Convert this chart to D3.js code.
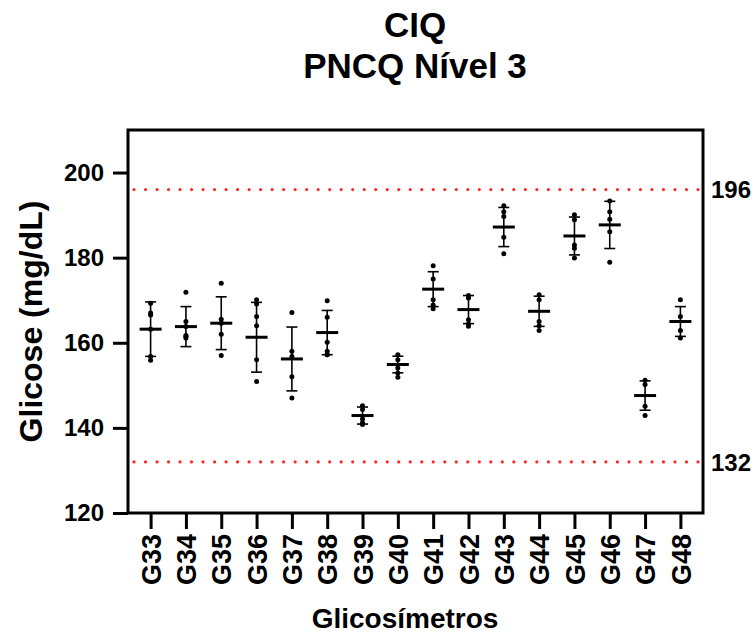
<!DOCTYPE html>
<html>
<head>
<meta charset="utf-8">
<script src="https://cdn.jsdelivr.net/npm/d3@7"></script>
<style>
    body { margin: 0; background: #fff; }
    svg { font-family: "Liberation Sans", Arial, sans-serif; font-weight: bold; }
</style>
</head>
<body>
<div id="chart"></div>
<script>
// glicosimetros
const categories = ['G33', 'G34', 'G35', 'G36', 'G37', 'G38', 'G39', 'G40',
    'G41', 'G42', 'G43', 'G44', 'G45', 'G46', 'G47', 'G48'];

// individual readings per meter (mg/dL)
const readings = [
    [169.3, 167.0, 166.5, 156.8, 155.9, 163.2],
    [171.9, 163.8, 161.7, 161.1, 161.5, 165.0],
    [174.0, 164.6, 162.0, 157.0, 165.5],
    [170.1, 169.1, 166.2, 164.0, 156.0, 150.9],
    [167.1, 158.0, 156.8, 152.0, 147.0],
    [169.9, 166.0, 160.1, 158.0, 157.2, 157.2],
    [145.2, 144.3, 142.1, 141.2, 140.8],
    [157.2, 156.0, 154.1, 152.9, 151.9],
    [178.1, 175.0, 170.1, 168.9, 168.0],
    [171.1, 170.5, 165.4, 164.5, 163.9],
    [192.2, 190.8, 189.7, 184.8, 180.9],
    [171.3, 170.1, 165.0, 164.0, 162.9],
    [190.1, 188.9, 183.0, 182.2, 179.9],
    [193.3, 190.8, 189.0, 186.1, 178.9],
    [151.2, 150.2, 145.1, 142.9],
    [170.1, 166.2, 162.9, 161.1]
];

// mean and SD as plotted
const means = [163.2, 163.8, 164.6, 161.3, 156.2, 162.4, 142.9, 154.9,
    172.6, 167.8, 187.2, 167.4, 185.1, 187.7, 147.6, 165.0];
const sds = [6.4, 4.7, 6.2, 8.2, 7.5, 5.2, 2.0, 1.95,
    4.1, 3.3, 4.6, 3.55, 4.45, 5.55, 3.45, 3.5];

const yTicks = [120, 140, 160, 180, 200];
const limits = [196, 132];

const width = 756, height = 633;
const plot = { left: 128, right: 703, top: 130, bottom: 513 };

const svg = d3.select('#chart').append('svg')
    .attr('width', width)
    .attr('height', height);

const x = d3.scalePoint()
    .domain(categories)
    .range([plot.left, plot.right])
    .padding(0.64);

const y = d3.scaleLinear()
    .domain([120, 210])
    .range([plot.bottom, plot.top]);

// titles
svg.append('text')
    .attr('x', 415).attr('y', 37)
    .attr('text-anchor', 'middle')
    .style('font-size', '35px')
    .text('CIQ');
svg.append('text')
    .attr('x', 415).attr('y', 78)
    .attr('text-anchor', 'middle')
    .style('font-size', '35px')
    .text('PNCQ Nível 3');

// reference lines
const limitG = svg.append('g');
limitG.selectAll('line')
    .data(limits)
    .join('line')
    .attr('x1', plot.left + 6)
    .attr('x2', plot.right - 4)
    .attr('y1', d => y(d))
    .attr('y2', d => y(d))
    .attr('stroke', '#ff2a2a')
    .attr('stroke-width', 3.2)
    .attr('stroke-linecap', 'round')
    .attr('stroke-dasharray', '0.01 11.5');

limitG.selectAll('text')
    .data(limits)
    .join('text')
    .attr('x', plot.right + 8)
    .attr('y', d => y(d))
    .attr('dy', '0.36em')
    .style('font-size', '24px')
    .text(d => d);

// frame
svg.append('rect')
    .attr('x', plot.left)
    .attr('y', plot.top)
    .attr('width', plot.right - plot.left)
    .attr('height', plot.bottom - plot.top)
    .attr('fill', 'none')
    .attr('stroke', '#000')
    .attr('stroke-width', 3);

// y axis
const axisY = d3.axisLeft(y)
    .tickValues(yTicks)
    .tickSize(15)
    .tickPadding(9);
const gy = svg.append('g')
    .attr('transform', `translate(${plot.left}, 0)`)
    .call(axisY);
gy.select('.domain').remove();
gy.selectAll('.tick line').attr('stroke-width', 3);
gy.selectAll('.tick text')
    .style('font-size', '24px')
    .style('font-family', '"Liberation Sans", Arial, sans-serif')
    .style('font-weight', 'bold')
    .attr('fill', '#000');

// x axis
const axisX = d3.axisBottom(x)
    .tickSize(16)
    .tickPadding(5);
const gx = svg.append('g')
    .attr('transform', `translate(0, ${plot.bottom})`)
    .call(axisX);
gx.select('.domain').remove();
gx.selectAll('.tick line').attr('stroke-width', 3);
gx.selectAll('.tick text')
    .style('font-size', '27px')
    .style('font-family', '"Liberation Sans", Arial, sans-serif')
    .style('font-weight', 'bold')
    .attr('fill', '#000')
    .attr('text-anchor', 'end')
    .attr('transform', 'rotate(-90)')
    .attr('x', -21)
    .attr('y', 0)
    .attr('dy', '0.36em');

// axis titles
svg.append('text')
    .attr('transform', `translate(42, ${(plot.top + plot.bottom) / 2}) rotate(-90)`)
    .attr('text-anchor', 'middle')
    .style('font-size', '32px')
    .text('Glicose (mg/dL)');
svg.append('text')
    .attr('x', 405).attr('y', 628)
    .attr('text-anchor', 'middle')
    .style('font-size', '28px')
    .text('Glicosímetros');

// groups: points, mean, SD bars
const groups = svg.append('g')
    .selectAll('g')
    .data(categories)
    .join('g')
    .attr('transform', d => `translate(${x(d)}, 0)`);

groups.append('line')
    .attr('y1', (d, i) => y(means[i] + sds[i]))
    .attr('y2', (d, i) => y(means[i] - sds[i]))
    .attr('stroke', '#000')
    .attr('stroke-width', 1.6);

groups.selectAll('.cap')
    .data((d, i) => [means[i] + sds[i], means[i] - sds[i]])
    .join('line')
    .attr('class', 'cap')
    .attr('x1', -5.5).attr('x2', 5.5)
    .attr('y1', d => y(d))
    .attr('y2', d => y(d))
    .attr('stroke', '#000')
    .attr('stroke-width', 1.6);

groups.append('line')
    .attr('x1', -11).attr('x2', 11)
    .attr('y1', (d, i) => y(means[i]))
    .attr('y2', (d, i) => y(means[i]))
    .attr('stroke', '#000')
    .attr('stroke-width', 3);

groups.selectAll('circle')
    .data((d, i) => readings[i])
    .join('circle')
    .attr('cx', 0)
    .attr('cy', d => y(d))
    .attr('r', 2.5)
    .attr('fill', '#000');
</script>
</body>
</html>
